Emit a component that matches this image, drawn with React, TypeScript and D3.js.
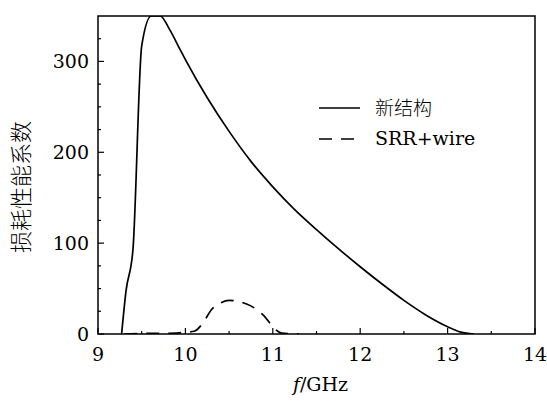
import React from 'react'
import * as d3 from 'd3'

// 新结构 (solid)
const newFreq = [9.27, 9.32, 9.4, 9.5, 9.61, 9.71, 9.82, 9.94, 10.0, 10.25, 10.5, 10.75, 11.0, 11.25, 11.5, 11.75, 12.0, 12.25, 12.5, 12.75, 13.0, 13.15, 13.3]
const newLoss = [0, 47, 93, 317, 350, 350, 335, 313, 302, 260, 223, 190, 162, 137, 115, 94, 74, 55, 37, 21, 8, 2, 0]

// SRR+wire (dashed)
const srrFreq = [9.3, 9.5, 9.9, 10.0, 10.1, 10.2, 10.3, 10.4, 10.5, 10.6, 10.7, 10.8, 10.9, 11.0, 11.1, 11.3]
const srrLoss = [0, 0.5, 1, 2, 3, 12, 27, 34, 37, 36, 33, 28, 20, 8, 1, 0]

const xTicks = [9, 10, 11, 12, 13, 14]
const yTicks = [0, 100, 200, 300]

const W = 547
const H = 401
const margin = {top: 16, right: 12, bottom: 67, left: 98}
const serif = '"DejaVu Serif", "Liberation Serif", "Noto Serif", serif'
const cjk = '"Noto Sans CJK SC", sans-serif'

export default function App() {
  const x = d3.scaleLinear().domain([9, 14]).range([margin.left, W - margin.right])
  const y = d3.scaleLinear().domain([0, 350]).range([H - margin.bottom, margin.top])

  const line = d3
    .line<[number, number]>()
    .curve(d3.curveMonotoneX)
    .x(d => x(d[0]))
    .y(d => y(d[1]))

  const newData = newFreq.map((f, i) => [f, newLoss[i]] as [number, number])
  const srrData = srrFreq.map((f, i) => [f, srrLoss[i]] as [number, number])

  const xMinor = d3.range(9.5, 14, 1)
  const yMinor = d3.range(25, 350, 25).filter(v => v % 100 !== 0)
  const x0 = margin.left
  const y0 = H - margin.bottom
  const serifStyle = {fontFamily: serif, fontSize: 19}

  return (
    <svg width={W} height={H} style={{position: 'absolute', left: 0, top: 0, background: '#fff'}}>
      <defs>
        <clipPath id="plot">
          <rect x={x0} y={margin.top} width={W - margin.right - x0} height={y0 - margin.top} />
        </clipPath>
      </defs>
      <g clipPath="url(#plot)">
        <path d={line(newData) || ''} fill="none" stroke="#000" strokeWidth={1.7} />
        <path d={line(srrData) || ''} fill="none" stroke="#000" strokeWidth={1.7} strokeDasharray="13,9" />
      </g>
      <rect x={x0} y={margin.top} width={W - margin.right - x0} height={y0 - margin.top} fill="none" stroke="#000" strokeWidth={1.5} />
      {xTicks.map(t => (
        <g key={'x' + t}>
          <line x1={x(t)} x2={x(t)} y1={y0} y2={y0 - 6} stroke="#000" strokeWidth={1.2} />
          <text x={x(t)} y={y0 + 27} textAnchor="middle" style={serifStyle}>{t}</text>
        </g>
      ))}
      {xMinor.map(t => (
        <line key={'xm' + t} x1={x(t)} x2={x(t)} y1={y0} y2={y0 - 3} stroke="#000" strokeWidth={1.2} />
      ))}
      {yTicks.map(t => (
        <g key={'y' + t}>
          <line x1={x0} x2={x0 + 6} y1={y(t)} y2={y(t)} stroke="#000" strokeWidth={1.2} />
          <text x={x0 - 9} y={y(t) + 7} textAnchor="end" style={serifStyle}>{t}</text>
        </g>
      ))}
      {yMinor.map(t => (
        <line key={'ym' + t} x1={x0} x2={x0 + 3} y1={y(t)} y2={y(t)} stroke="#000" strokeWidth={1.2} />
      ))}
      <text transform={`translate(29,${(margin.top + y0) / 2 + 12}) rotate(-90)`} textAnchor="middle" style={{fontFamily: cjk, fontSize: 22, fontWeight: 300}}>
        损耗性能系数
      </text>
      <text x={(x0 + W - margin.right) / 2 + 4} y={391} textAnchor="middle" style={serifStyle}>
        <tspan fontStyle="italic">f</tspan>/GHz
      </text>
      <line x1={319} x2={360} y1={108} y2={108} stroke="#000" strokeWidth={1.7} />
      <text x={375} y={115} style={{fontFamily: cjk, fontSize: 19, fontWeight: 300}}>新结构</text>
      <line x1={319} x2={362} y1={139} y2={139} stroke="#000" strokeWidth={1.7} strokeDasharray="13,9" />
      <text x={375} y={145} style={serifStyle}>SRR+wire</text>
    </svg>
  )
}
